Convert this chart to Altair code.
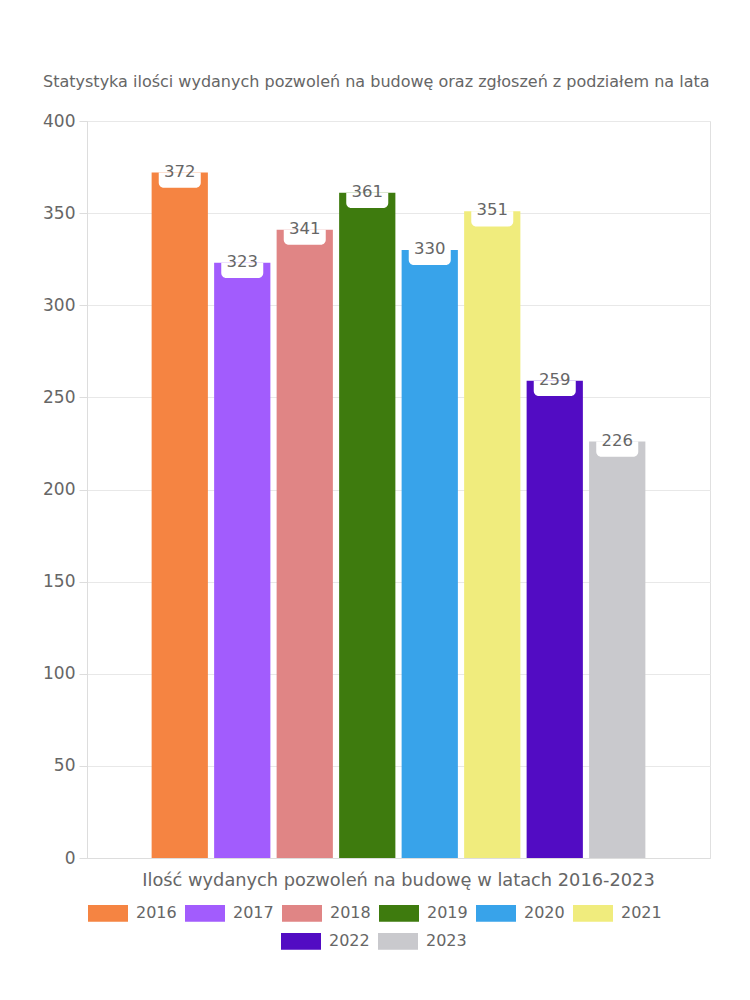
import altair as alt
import pandas as pd

years = ["2016", "2017", "2018", "2019", "2020", "2021", "2022", "2023"]
values = [372, 323, 341, 361, 330, 351, 259, 226]
colors = ["#f58442", "#a25cfd", "#e08585", "#3e7b0e", "#38a3ea", "#f0ec7d", "#520cc3", "#c9c9cd"]
category = "Ilość wydanych pozwoleń na budowę w latach 2016-2023"
title_text = "Statystyka ilości wydanych pozwoleń na budowę oraz zgłoszeń z podziałem na lata"
y_ticks = [0, 50, 100, 150, 200, 250, 300, 350, 400]

FONT = "DejaVu Sans"
TXT = "#666666"

df = pd.DataFrame({"kategoria": [category] * len(years), "rok": years, "wartosc": values})

x = alt.X("kategoria:N", title=None,
          scale=alt.Scale(paddingInner=0, paddingOuter=0.123),
          axis=alt.Axis(labelAngle=0, ticks=False, labelFontSize=17.8, labelColor=TXT,
                        labelPadding=13, labelLimit=0, domainColor="#dddddd", labelFont=FONT,
                        grid=False))
xo = alt.XOffset("rok:N", scale=alt.Scale(domain=years, paddingInner=0.1, paddingOuter=0.05))
y = alt.Y("wartosc:Q", title=None,
          scale=alt.Scale(domain=[0, 400], nice=False),
          axis=alt.Axis(values=y_ticks, labelFontSize=17, labelColor=TXT, labelFont=FONT,
                        tickColor="#dddddd", tickSize=8, domainColor="#dddddd",
                        gridColor="#e8e8e8", labelPadding=4))

sym = "M-1,-0.42H1V0.42H-1Z"

def legend(vals, lx, ly):
    return alt.Legend(values=vals, orient="none", legendX=lx, legendY=ly, direction="horizontal",
                      columns=len(vals), title=None, symbolType=sym, symbolSize=1600,
                      symbolStrokeWidth=0, symbolOpacity=1, labelFontSize=16, labelColor=TXT,
                      labelFont=FONT, labelOffset=8, columnPadding=8)

cscale = alt.Scale(domain=years, range=colors)

bars = alt.Chart(df).mark_bar().encode(
    x=x, xOffset=xo, y=y,
    color=alt.Color("rok:N", scale=cscale, legend=legend(years[:6], 1, 772)),
)
ghost = alt.Chart(df).mark_bar(opacity=0).encode(
    x=x, xOffset=xo, y=y,
    color=alt.Color("rok:N", scale=cscale, legend=legend(years[6:], 194, 800)),
)
boxes = alt.Chart(df).transform_calculate(dol="datum.wartosc - 8.2").mark_bar(
    color="white", size=42, cornerRadiusBottomLeft=5, cornerRadiusBottomRight=5
).encode(x=x, xOffset=xo, y=y, y2="dol:Q")
labels = alt.Chart(df).mark_text(
    font=FONT, fontSize=16.5, color=TXT, baseline="middle", dy=-1
).encode(x=x, xOffset=xo, y=y, text="wartosc:Q")

chart = alt.layer(bars, ghost, boxes, labels).resolve_scale(color="independent").properties(
    width=623, height=737,
    padding={"left": 79, "top": 113, "right": 32, "bottom": 134},
    autosize="none",
    title=alt.TitleParams(title_text, font=FONT, fontSize=16, color=TXT, fontWeight="normal",
                          anchor="middle", frame="bounds", offset=22),
    background="white",
).configure_view(stroke="#e0e0e0")

chart.save("out.html", embed_options={"renderer": "svg", "actions": False})
